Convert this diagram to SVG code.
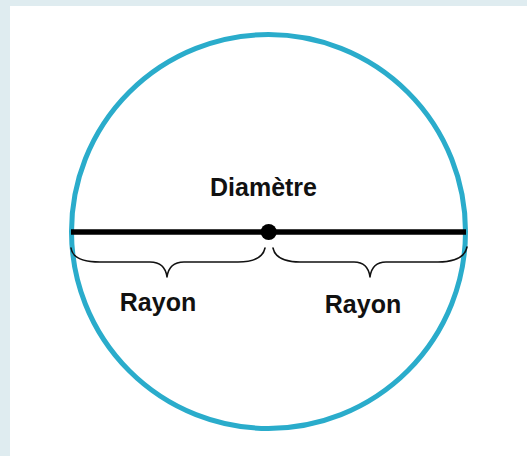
<svg xmlns="http://www.w3.org/2000/svg" width="527" height="456" viewBox="0 0 527 456">
<style>
.lbl{font-family:"Liberation Sans",Arial,sans-serif;font-weight:bold;font-size:25px;fill:#111;text-anchor:middle}
.brace{fill:none;stroke:#111;stroke-width:1.6;stroke-linecap:round;stroke-linejoin:round}
</style>
<rect x="0" y="0" width="527" height="456" fill="#dfecf0"/>
<rect x="10" y="6" width="517" height="450" fill="#ffffff"/>
<g id="circle">
<circle cx="268.5" cy="231.5" r="197" fill="none" stroke="#2aaccb" stroke-width="5"/>
</g>
<g id="connectors">
<line x1="71" y1="232" x2="466" y2="232" stroke="#000" stroke-width="5.5"/>
<path class="brace" d="M71,248 Q73,262 100,262 L150,262 Q165,262 167,277 Q169,262 184,262 L238,262 Q262,262 265,248"/>
<path class="brace" d="M273,248 Q276,262 300,262 L354,262 Q368,262 370,277 Q372,262 386,262 L438,262 Q464,262 467,247"/>
</g>
<g id="center">
<circle cx="268.7" cy="232" r="8" fill="#000"/>
</g>
<g id="label-diametre">
<text class="lbl" x="263.5" y="196">Diamètre</text>
</g>
<g id="label-rayon-left">
<text class="lbl" x="158" y="311">Rayon</text>
</g>
<g id="label-rayon-right">
<text class="lbl" x="363" y="313">Rayon</text>
</g>
</svg>
